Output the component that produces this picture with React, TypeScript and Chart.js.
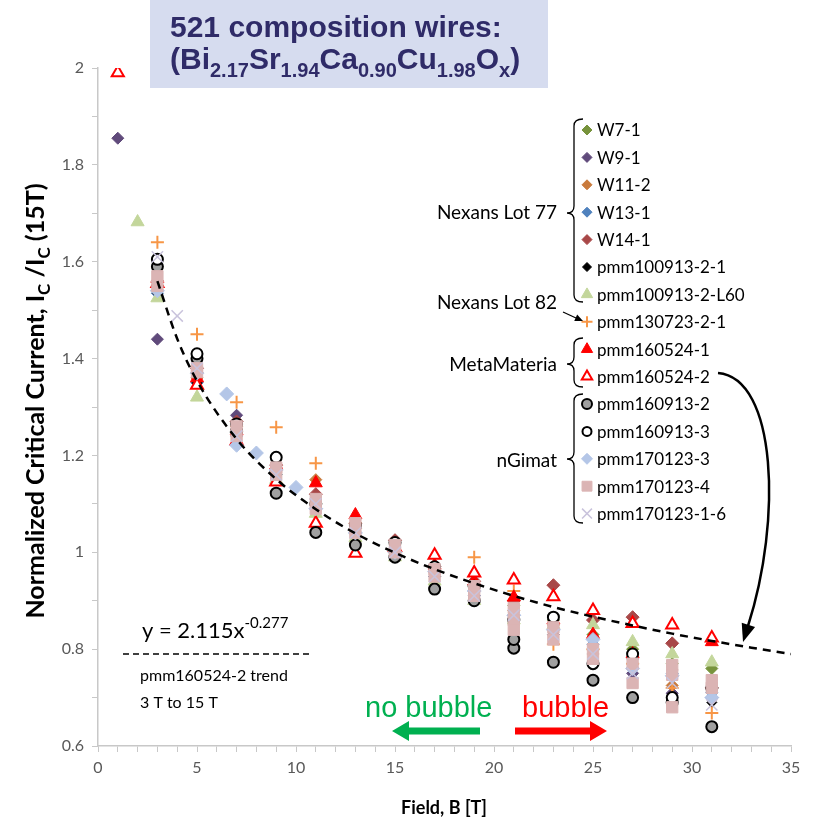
import React, { useEffect, useRef } from 'react';
import { Chart, registerables } from 'chart.js';
import { drawPoint } from 'chart.js/helpers';

Chart.register(...registerables);

const FONT = 'Lato, "Open Sans", sans-serif';
const ARIAL = '"Liberation Sans", Arial, sans-serif';

// ---- data: [Field B (T), Ic/Ic(15T)] ----
const W7_1 = [[3,1.55],[5,1.36],[7,1.25],[9,1.16],[11,1.10],[13,1.05],[15,1.00],[17,0.96],[19,0.93],[21,0.89],[23,0.86],[25,0.83],[27,0.80],[29,0.77],[31,0.76]];
const W9_1 = [[1,1.855],[3,1.44],[5,1.35],[7,1.283],[9,1.17],[11,1.11],[13,1.05],[15,1.00],[17,0.95],[19,0.91],[21,0.87],[23,0.83],[25,0.79],[27,0.75],[29,0.709],[31,0.70]];
const W11_2 = [[3,1.54],[5,1.36],[7,1.26],[9,1.17],[11,1.15],[13,1.05],[15,1.00],[17,0.95],[19,0.92],[21,0.88],[23,0.85],[25,0.80],[27,0.77],[29,0.725],[31,0.70]];
const W13_1 = [[3,1.535],[5,1.35],[7,1.24],[9,1.16],[11,1.09],[13,1.04],[15,0.99],[17,0.95],[19,0.91],[21,0.87],[23,0.84],[25,0.81],[27,0.78],[29,0.75],[31,0.71]];
const W14_1 = [[3,1.56],[5,1.38],[7,1.27],[9,1.18],[11,1.12],[13,1.06],[15,1.025],[17,0.97],[19,0.94],[21,0.90],[23,0.932],[25,0.86],[27,0.866],[29,0.812],[31,0.72]];
const PMM100913_2_1 = [[3,1.535],[5,1.35],[7,1.25],[9,1.16],[11,1.10],[13,1.04],[15,0.99],[17,0.95],[19,0.91],[21,0.88],[23,0.84],[25,0.80],[27,0.77],[29,0.74],[31,0.69]];
const PMM100913_2_L60 = [[2,1.682],[3,1.525],[5,1.32],[7,1.23],[9,1.15],[11,1.08],[13,1.03],[15,0.99],[17,0.94],[19,0.90],[21,0.86],[23,0.85],[25,0.85],[27,0.815],[29,0.79],[31,0.773]];
const PMM130723_2_1 = [[3,1.64],[5,1.45],[7,1.31],[9,1.258],[11,1.184],[13,1.06],[15,1.00],[17,0.96],[19,0.99],[21,0.92],[23,0.81],[25,0.80],[27,0.77],[29,0.72],[31,0.668]];
const PMM160524_1 = [[3,1.565],[5,1.36],[7,1.25],[9,1.18],[11,1.143],[13,1.077],[15,1.01],[17,0.973],[19,0.94],[21,0.907],[23,0.86],[25,0.83],[27,0.79],[31,0.815]];
const PMM160524_2 = [[1,1.99],[3,1.555],[5,1.345],[7,1.23],[9,1.145],[11,1.06],[13,0.998],[15,1.01],[17,0.994],[19,0.957],[21,0.943],[23,0.908],[25,0.88],[27,0.853],[29,0.85],[31,0.823]];
const PMM160913_2 = [[3,1.59],[5,1.40],[7,1.25],[9,1.122],[11,1.041],[13,1.015],[15,0.99],[17,0.924],[19,0.90],[21,0.802],[21,0.82],[23,0.773],[25,0.736],[27,0.70],[29,0.69],[31,0.64]];
const PMM160913_3 = [[3,1.605],[5,1.41],[7,1.265],[9,1.196],[11,1.10],[13,1.056],[15,1.02],[17,0.97],[19,0.93],[21,0.86],[23,0.866],[25,0.77],[27,0.79],[29,0.70],[31,0.72]];
const PMM170123_3 = [[3,1.54],[5,1.37],[6.5,1.327],[7,1.221],[8,1.205],[9,1.17],[10,1.134],[11,1.09],[13,1.04],[15,1.00],[17,0.96],[19,0.92],[21,0.87],[23,0.84],[25,0.82],[27,0.76],[29,0.745],[31,0.70]];
const PMM170123_4 = [[3,1.55],[3,1.57],[5,1.372],[5,1.38],[7,1.24],[7,1.26],[9,1.16],[9,1.175],[11,1.09],[11,1.11],[13,1.04],[13,1.06],[15,1.0],[15,1.015],[17,0.95],[17,0.965],[19,0.91],[19,0.93],[21,0.885],[21,0.86],[21,0.84],[23,0.845],[23,0.82],[25,0.80],[25,0.78],[27,0.77],[27,0.73],[29,0.767],[29,0.747],[29,0.68],[31,0.736],[31,0.72]];
const PMM170123_1_6 = [[3,1.61],[4,1.488],[5,1.38],[7,1.24],[9,1.16],[11,1.10],[13,1.04],[15,1.00],[17,0.95],[19,0.91],[21,0.87],[23,0.83],[25,0.79],[27,0.75],[29,0.73],[31,0.685]];

// pmm160524-2 trend (3 T to 15 T fit, extended)
const TREND_B = [3,4,5,7,9,11,13,15,17,19,21,23,25,27,29,31,33,35];
const TREND_I = [1.560,1.441,1.354,1.234,1.151,1.089,1.039,0.999,0.965,0.936,0.910,0.887,0.867,0.849,0.832,0.817,0.803,0.790];

const LABELS = ['W7-1','W9-1','W11-2','W13-1','W14-1','pmm100913-2-1','pmm100913-2-L60','pmm130723-2-1','pmm160524-1','pmm160524-2','pmm160913-2','pmm160913-3','pmm170123-3','pmm170123-4','pmm170123-1-6'];
const VALUES = [W7_1,W9_1,W11_2,W13_1,W14_1,PMM100913_2_1,PMM100913_2_L60,PMM130723_2_1,PMM160524_1,PMM160524_2,PMM160913_2,PMM160913_3,PMM170123_3,PMM170123_4,PMM170123_1_6];

const STYLES = [
  { ps: 'rectRot', r: 6, lr: 5, bg: '#77933c', bc: '#77933c', bw: 1 },
  { ps: 'rectRot', r: 6, lr: 5, bg: '#604a7b', bc: '#604a7b', bw: 1 },
  { ps: 'rectRot', r: 6, lr: 5, bg: '#c97a3c', bc: '#c97a3c', bw: 1 },
  { ps: 'rectRot', r: 6, lr: 5, bg: '#4f81bd', bc: '#4f81bd', bw: 1 },
  { ps: 'rectRot', r: 6.5, lr: 5, bg: '#a84747', bc: '#a84747', bw: 1 },
  { ps: 'rectRot', r: 5, lr: 4.5, bg: '#000000', bc: '#000000', bw: 1 },
  { ps: 'triangle', r: 7.5, lr: 6.5, bg: '#c3d69b', bc: '#c3d69b', bw: 1 },
  { ps: 'cross', r: 6.5, lr: 5.5, bg: '#f79646', bc: '#f79646', bw: 2 },
  { ps: 'triangle', r: 7.5, lr: 6.5, bg: '#ff0000', bc: '#ff0000', bw: 1 },
  { ps: 'triangle', r: 7, lr: 6, bg: '#ffffff', bc: '#ff0000', bw: 2 },
  { ps: 'circle', r: 5.5, lr: 5, bg: '#a0a0a0', bc: '#000000', bw: 2 },
  { ps: 'circle', r: 5.5, lr: 4.5, bg: '#ffffff', bc: '#000000', bw: 2 },
  { ps: 'rectRot', r: 7, lr: 5.5, bg: '#b4c6e7', bc: '#b4c6e7', bw: 1 },
  { ps: 'rect', r: 8, lr: 7, bg: '#dbb4b4', bc: '#dbb4b4', bw: 1 },
  { ps: 'crossRot', r: 8, lr: 7, bg: '#c9c3dc', bc: '#c9c3dc', bw: 1.5 },
];

const GROUPS = [
  { name: 'Nexans Lot 77', y: 213 },
  { name: 'Nexans Lot 82', y: 303 },
  { name: 'MetaMateria', y: 365 },
  { name: 'nGimat', y: 461 },
];

type Part = { t: string; sub?: boolean; sup?: boolean };

function rich(ctx: any, x: number, y: number, parts: Part[], size: number, weight: string, family: string, align: string, subScale: number, subDy: number, supDy: number) {
  const f = (p: Part) => `${weight} ${p.sub || p.sup ? Math.round(size * subScale) : size}px ${family}`;
  let w = 0;
  for (const p of parts) { ctx.font = f(p); w += ctx.measureText(p.t).width; }
  let cx = align === 'center' ? x - w / 2 : align === 'right' ? x - w : x;
  ctx.textAlign = 'left';
  for (const p of parts) {
    ctx.font = f(p);
    ctx.fillText(p.t, cx, y + (p.sub ? subDy : p.sup ? supDy : 0));
    cx += ctx.measureText(p.t).width;
  }
}

function brace(ctx: any, x: number, y1: number, y2: number, ym: number) {
  const w = 7;
  ctx.beginPath();
  ctx.moveTo(x + w + 2, y1);
  ctx.quadraticCurveTo(x, y1, x, y1 + w);
  ctx.lineTo(x, ym - w);
  ctx.quadraticCurveTo(x, ym, x - w, ym);
  ctx.quadraticCurveTo(x, ym, x, ym + w);
  ctx.lineTo(x, y2 - w);
  ctx.quadraticCurveTo(x, y2, x + w + 2, y2);
  ctx.stroke();
}

function arrowHead(ctx: any, tx: number, ty: number, dx: number, dy: number, len: number, half: number) {
  const l = Math.hypot(dx, dy);
  const ux = dx / l, uy = dy / l;
  const bx = tx - ux * len, by = ty - uy * len;
  ctx.beginPath();
  ctx.moveTo(tx, ty);
  ctx.lineTo(bx - uy * half, by + ux * half);
  ctx.lineTo(bx + uy * half, by - ux * half);
  ctx.closePath();
  ctx.fill();
}

function blockArrow(ctx: any, x0: number, x1: number, y: number, color: string) {
  const dir = Math.sign(x1 - x0);
  const headLen = 17, half = 10, body = 3.5;
  const hb = x1 - dir * headLen;
  ctx.fillStyle = color;
  ctx.beginPath();
  ctx.moveTo(x0, y - body);
  ctx.lineTo(hb, y - body);
  ctx.lineTo(hb, y - half);
  ctx.lineTo(x1, y);
  ctx.lineTo(hb, y + half);
  ctx.lineTo(hb, y + body);
  ctx.lineTo(x0, y + body);
  ctx.closePath();
  ctx.fill();
}

const overlay = {
  id: 'overlay',
  afterDraw(chart: any) {
    const ctx = chart.ctx;
    ctx.save();
    ctx.textBaseline = 'alphabetic';

    // title box
    ctx.fillStyle = '#d6dcef';
    ctx.fillRect(150, 0, 398, 88);
    ctx.fillStyle = '#2f2b68';
    rich(ctx, 170, 37, [{ t: '521 composition wires:' }], 30, 'bold', ARIAL, 'left', 0.66, 8, -10);
    rich(ctx, 170, 69, [
      { t: '(Bi' }, { t: '2.17', sub: true }, { t: 'Sr' }, { t: '1.94', sub: true },
      { t: 'Ca' }, { t: '0.90', sub: true }, { t: 'Cu' }, { t: '1.98', sub: true },
      { t: 'O' }, { t: 'x', sub: true }, { t: ')' },
    ], 30, 'bold', ARIAL, 'left', 0.66, 8, -10);

    // axis titles
    ctx.fillStyle = '#000';
    rich(ctx, 444, 814, [{ t: 'Field, B [T]' }], 18, 'bold', FONT, 'center', 0.7, 5, -7);
    ctx.save();
    ctx.translate(44, 401);
    ctx.rotate(-Math.PI / 2);
    rich(ctx, 0, 0, [
      { t: 'Normalized Critical Current, I' }, { t: 'C', sub: true },
      { t: ' /I' }, { t: 'C', sub: true }, { t: ' (15T)' },
    ], 25, 'bold', FONT, 'center', 0.68, 6, -9);
    ctx.restore();

    // legend entries
    ctx.textBaseline = 'middle';
    for (let i = 0; i < LABELS.length; i++) {
      const y = 130 + i * 27.4;
      const st = STYLES[i];
      ctx.fillStyle = st.bg;
      ctx.strokeStyle = st.bc;
      ctx.lineWidth = st.bw;
      drawPoint(ctx, { pointStyle: st.ps, radius: st.lr, rotation: 0, borderWidth: st.bw }, 587, y);
      ctx.fillStyle = '#000';
      ctx.font = `17px ${FONT}`;
      ctx.textAlign = 'left';
      ctx.fillText(LABELS[i], 597, y + 1);
    }
    ctx.font = `19px ${FONT}`;
    ctx.textAlign = 'right';
    for (const g of GROUPS) ctx.fillText(g.name, 557, g.y);

    // braces
    ctx.strokeStyle = '#000';
    ctx.lineWidth = 1.3;
    brace(ctx, 574, 119, 302, 213);
    brace(ctx, 574, 338, 387, 364);
    brace(ctx, 574, 394, 523, 459);

    // Lot 82 small arrow
    ctx.fillStyle = '#000';
    ctx.beginPath();
    ctx.moveTo(563, 312);
    ctx.lineTo(576, 318);
    ctx.stroke();
    arrowHead(ctx, 583, 321, 20, 9, 8, 3.5);

    // big curved arrow
    ctx.lineWidth = 2.5;
    ctx.beginPath();
    ctx.moveTo(718, 373);
    ctx.bezierCurveTo(777, 378, 782, 520, 748, 626);
    ctx.stroke();
    arrowHead(ctx, 743, 642, -34, 108, 18, 7);

    // trend equation annotation
    ctx.textBaseline = 'alphabetic';
    ctx.fillStyle = '#000';
    rich(ctx, 142, 638, [{ t: 'y = 2.115x' }, { t: '-0.277', sup: true }], 22, 'normal', FONT, 'left', 0.66, 6, -10);
    ctx.save();
    ctx.setLineDash([6, 4]);
    ctx.lineWidth = 1.3;
    ctx.beginPath();
    ctx.moveTo(123, 654);
    ctx.lineTo(313, 654);
    ctx.stroke();
    ctx.restore();
    ctx.textBaseline = 'middle';
    ctx.font = `16px ${FONT}`;
    ctx.textAlign = 'left';
    ctx.fillText('pmm160524-2 trend', 140, 676);
    ctx.fillText('3 T to 15 T', 140, 703);

    // bubble annotations
    ctx.textBaseline = 'alphabetic';
    ctx.font = `29px ${ARIAL}`;
    ctx.fillStyle = '#00b050';
    ctx.fillText('no bubble', 365, 717);
    ctx.fillStyle = '#ff0000';
    ctx.fillText('bubble', 522, 717);
    blockArrow(ctx, 480, 392, 731, '#00b050');
    blockArrow(ctx, 515, 607, 731, '#ff0000');

    ctx.restore();
  },
};

export default function App() {
  const ref = useRef<HTMLCanvasElement>(null);
  useEffect(() => {
    if (!ref.current) return;
    const datasets: any[] = VALUES.map((vals, i) => {
      const st = STYLES[i];
      return {
        type: 'scatter',
        label: LABELS[i],
        data: vals.map(([x, y]) => ({ x, y })),
        pointStyle: st.ps,
        pointRadius: st.r,
        pointHoverRadius: st.r,
        pointBackgroundColor: st.bg,
        pointBorderColor: st.bc,
        pointBorderWidth: st.bw,
        showLine: false,
        order: 100 - i,
      };
    });
    datasets.push({
      type: 'line',
      label: 'trend',
      data: TREND_B.map((x, i) => ({ x, y: TREND_I[i] })),
      borderColor: '#000',
      borderWidth: 2.5,
      borderDash: [8, 6],
      pointRadius: 0,
      fill: false,
      cubicInterpolationMode: 'monotone',
      order: 0,
    });
    const tickFont = { family: FONT, size: 16 };
    const chart = new Chart(ref.current, {
      type: 'scatter',
      data: { datasets },
      options: {
        animation: false,
        responsive: true,
        maintainAspectRatio: false,
        layout: { padding: { left: 0, right: 24, top: 68, bottom: 0 } },
        plugins: { legend: { display: false }, tooltip: { enabled: false } },
        scales: {
          x: {
            type: 'linear', min: 0, max: 35,
            ticks: {
              stepSize: 1, autoSkip: false, maxRotation: 0, padding: 6,
              color: '#595959', font: tickFont,
              callback: (v: any) => (Math.round(v) % 5 === 0 ? String(Math.round(v)) : ''),
            },
            grid: { drawOnChartArea: false, drawTicks: true, tickLength: 6, color: '#c8c8c8' },
            border: { color: '#c8c8c8', width: 1.5 },
            afterFit: (s: any) => { s.height = 79; },
          },
          y: {
            type: 'linear', min: 0.6, max: 2,
            ticks: {
              stepSize: 0.1, autoSkip: false, padding: 8,
              color: '#595959', font: tickFont,
              callback: (v: any) => (Math.round(v * 10) % 2 === 0 ? String(Number(v.toFixed(1))) : ''),
            },
            grid: { drawOnChartArea: false, drawTicks: true, tickLength: 6, color: '#c8c8c8' },
            border: { color: '#c8c8c8', width: 1.5 },
            afterFit: (s: any) => { s.width = 98; },
          },
        },
      },
      plugins: [overlay],
    } as any);
    if ((document as any).fonts) {
      (document as any).fonts.load(`16px Lato`).then(() => chart.update()).catch(() => {});
    }
    return () => chart.destroy();
  }, []);
  return (
    <div style={{ position: 'absolute', left: 0, top: 0, width: 815, height: 825, background: '#fff' }}>
      <canvas ref={ref} />
    </div>
  );
}
